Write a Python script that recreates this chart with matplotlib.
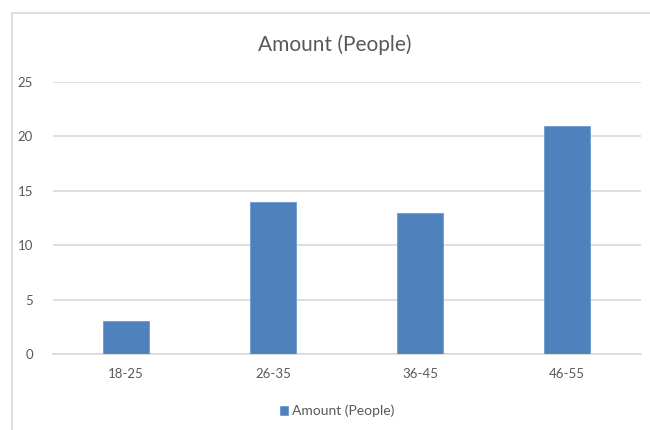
import numpy as np
import matplotlib.pyplot as plt
from matplotlib.lines import Line2D

# age groups and head counts
age_groups = ['18-25', '26-35', '36-45', '46-55']
people = [3, 14, 13, 21]
series_name = 'Amount (People)'
y_ticks = [0, 5, 10, 15, 20, 25]

plt.rcParams['font.family'] = ['Lato', 'DejaVu Sans']

W, H = 650, 430
fig = plt.figure(figsize=(W / 100, H / 100), dpi=100)

# chart frame (top and left edges only, the rest runs off the canvas)
fig.add_artist(Line2D([12 / W, 1], [1 - 13 / H, 1 - 13 / H], color='#d9d9d9', lw=1.2))
fig.add_artist(Line2D([12 / W, 12 / W], [0, 1 - 13 / H], color='#d9d9d9', lw=1.2))

ax = fig.add_axes([52.5 / W, 76 / H, 588 / W, 272 / H])
x = np.arange(len(age_groups))
ax.bar(x, people, width=0.31, color='#4f81bd', edgecolor='#6f9ad0', linewidth=0.6,
       label=series_name, zorder=3)

ax.set_xlim(-0.5, len(age_groups) - 0.5)
ax.set_ylim(0, 25)
ax.set_yticks(y_ticks)
ax.set_xticks(x)
ax.set_xticklabels(age_groups)
ax.tick_params(length=0, labelsize=9.5, colors='#595959')
ax.tick_params(axis='y', pad=14)
ax.tick_params(axis='x', pad=10)
ax.grid(axis='y', color='#d9d9d9', linewidth=1.2, zorder=0)
for s in ['top', 'right', 'left']:
    ax.spines[s].set_visible(False)
ax.spines['bottom'].set_color('#d9d9d9')
ax.spines['bottom'].set_linewidth(1.2)

fig.text(335 / W, 1 - 45 / H, series_name, ha='center', va='center',
         fontsize=15, color='#595959')

fig.legend(loc='center', bbox_to_anchor=(337 / W, 1 - 411 / H), frameon=False,
           fontsize=10, labelcolor='#595959', handlelength=0.6, handleheight=0.6,
           handletextpad=0.3)

fig.savefig('out.png', dpi=100)
